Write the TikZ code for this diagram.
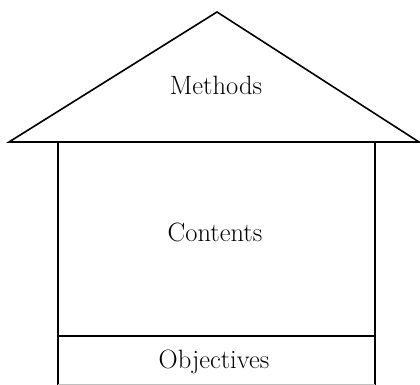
\documentclass[tikz,border=0pt]{standalone}
\usepackage{fontspec}
\setmainfont{Latin Modern Roman}
\begin{document}
\begin{tikzpicture}[x=1pt,y=-1pt,
  wall/.style={line width=1.6pt,line join=miter},
  roomtext/.style={anchor=base,font=\fontsize{26.5}{30}\selectfont,inner sep=0pt}]
\useasboundingbox (0,0) rectangle (420,385);
% roof
\coordinate (apex) at (217,12);
\coordinate (eaveL) at (9,142);
\coordinate (eaveR) at (419,142);
\draw[wall] (eaveL) -- (apex) -- (eaveR) -- cycle;
% walls and floor band
\coordinate (wallLt) at (58,142);
\coordinate (wallRt) at (375,142);
\coordinate (wallLb) at (58,385);
\coordinate (wallRb) at (375,385);
\coordinate (floorL) at (58,336);
\coordinate (floorR) at (375,336);
\draw[wall] (wallLt) -- (wallLb);
\draw[wall] (wallRt) -- (wallRb);
\draw[wall] (floorL) -- (floorR);
\draw[line width=1pt,black!25] (58,384) -- (375,384);
% labels
\node[roomtext] (methods) at (216,95) {Methods};
\node[roomtext] (contents) at (215,241) {Contents};
\node[roomtext] (objectives) at (214,368) {Objectives};
\end{tikzpicture}
\end{document}
